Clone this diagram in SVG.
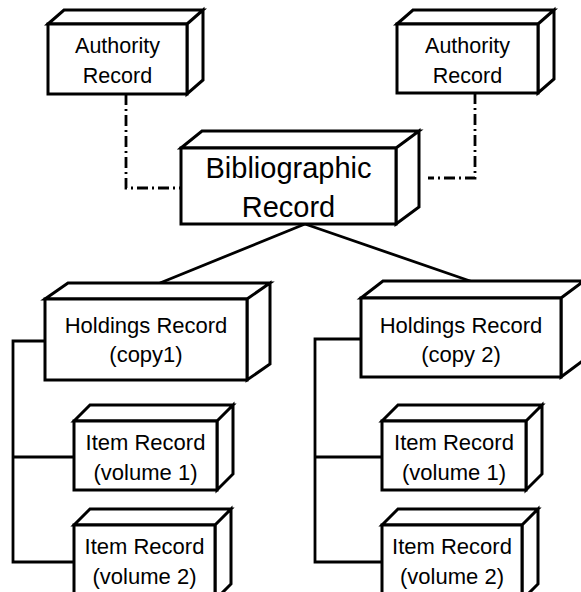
<svg xmlns="http://www.w3.org/2000/svg" width="581" height="592" viewBox="0 0 581 592">
<style>
.b{fill:#fff;stroke:#000;stroke-width:3;stroke-linejoin:miter}
.c{fill:none;stroke:#000;stroke-width:2.8}
.dd{fill:none;stroke:#000;stroke-width:2.8;stroke-dasharray:11 4 2 4}
text{font-family:"Liberation Sans",Arial,sans-serif;text-anchor:middle;fill:#000}
.s21{font-size:21.5px}.s22{font-size:22px}.s29{font-size:29px}
</style>
<rect width="581" height="592" fill="#fff"/>
<g id="connectors">
<path class="dd" d="M126,94 V188 H181"/>
<path class="dd" d="M475,93 V178 H428"/>
<path class="c" d="M305,224 L160,283 M305,224 L473,282"/>
<path class="c" d="M45,341 H13 V562 H74 M13,457 H74"/>
<path class="c" d="M361,339 H315 V562 H382 M315,457 H382"/>
</g>
<g id="auth1">
<path class="b" d="M48,24 L64,10 H203 L187,24 Z M187,24 L203,10 V80 L187,94 Z"/>
<rect class="b" x="48" y="24" width="139" height="70"/>
<text class="s21" x="117.5" y="53">Authority</text>
<text class="s21" x="117.5" y="83">Record</text>
</g>
<g id="auth2">
<path class="b" d="M397,24 L413,10 H554 L538,24 Z M538,24 L554,10 V79 L538,93 Z"/>
<rect class="b" x="397" y="24" width="141" height="69"/>
<text class="s21" x="467.5" y="53">Authority</text>
<text class="s21" x="467.5" y="83">Record</text>
</g>
<g id="biblio">
<path class="b" d="M181,148 L202,131 H419 L396,148 Z M396,148 L419,131 V207 L396,224 Z"/>
<rect class="b" x="181" y="148" width="215" height="76"/>
<text class="s29" x="288.5" y="178">Bibliographic</text>
<text class="s29" x="288.5" y="217">Record</text>
</g>
<g id="hold1">
<path class="b" d="M45,299 L68,283 H270 L247,299 Z M247,299 L270,283 V364 L247,380 Z"/>
<rect class="b" x="45" y="299" width="202" height="81"/>
<text class="s22" x="146" y="333">Holdings Record</text>
<text class="s22" x="146" y="362">(copy1)</text>
</g>
<g id="hold2">
<path class="b" d="M361,298 L383,281 H584 L561,298 Z M561,298 L584,281 V360 L561,377 Z"/>
<rect class="b" x="361" y="298" width="200" height="79"/>
<text class="s22" x="461" y="333">Holdings Record</text>
<text class="s22" x="461" y="362">(copy 2)</text>
</g>
<g id="item1L">
<path class="b" d="M74,421 L90,405 H233 L217,421 Z M217,421 L233,405 V474 L217,490 Z"/>
<rect class="b" x="74" y="421" width="143" height="69"/>
<text class="s22" x="145.5" y="450">Item Record</text>
<text class="s22" x="145.5" y="480">(volume 1)</text>
</g>
<g id="item2L">
<path class="b" d="M74,525 L90,509 H231 L215,525 Z M215,525 L231,509 V584 L215,600 Z"/>
<rect class="b" x="74" y="525" width="141" height="75"/>
<text class="s22" x="144.5" y="554">Item Record</text>
<text class="s22" x="144.5" y="584">(volume 2)</text>
</g>
<g id="item1R">
<path class="b" d="M382,421 L398,405 H542 L526,421 Z M526,421 L542,405 V474 L526,490 Z"/>
<rect class="b" x="382" y="421" width="144" height="69"/>
<text class="s22" x="454" y="450">Item Record</text>
<text class="s22" x="454" y="480">(volume 1)</text>
</g>
<g id="item2R">
<path class="b" d="M382,525 L398,509 H538 L522,525 Z M522,525 L538,509 V584 L522,600 Z"/>
<rect class="b" x="382" y="525" width="140" height="75"/>
<text class="s22" x="452" y="554">Item Record</text>
<text class="s22" x="452" y="584">(volume 2)</text>
</g>
</svg>
